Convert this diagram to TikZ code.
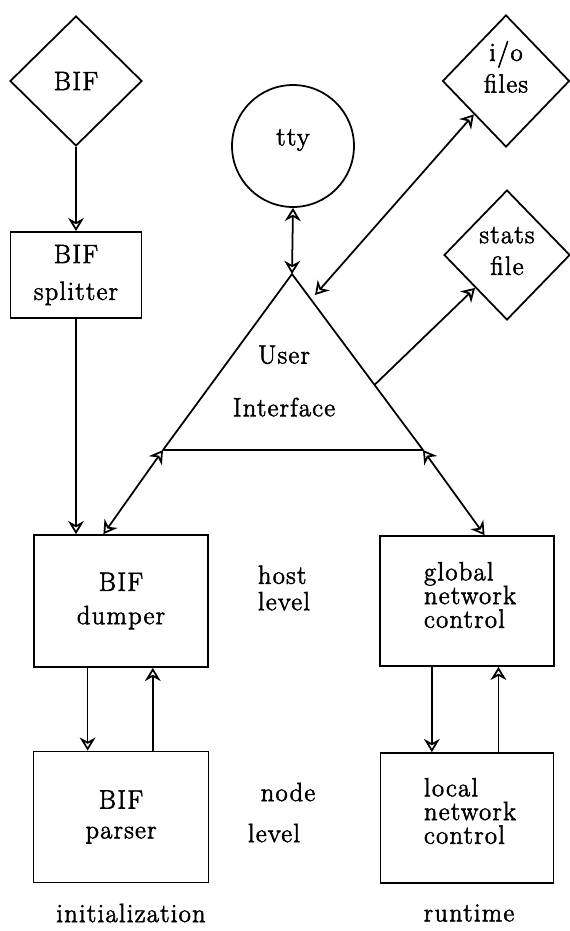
\documentclass[tikz,border=0pt]{standalone}
\usepackage{amsmath}
\usepackage{fontspec}
\setmainfont{Latin Modern Roman}[LetterSpace=5,FakeBold=2.2]
\usetikzlibrary{shapes.geometric,arrows.meta,calc}

\tikzset{
 box/.style={draw,rectangle,line width=1pt,inner sep=0pt,align=center},
 dia/.style={draw,diamond,line width=1pt,inner sep=0pt,align=center},
 con/.style={line width=1pt,-{Stealth[open,length=7.5pt,width=9pt]}},
 dcon/.style={line width=1pt,{Stealth[open,length=7.5pt,width=9pt]}-{Stealth[open,length=7.5pt,width=9pt]}},
 tight/.style={align=left,font=\fontsize{15}{13.5}\selectfont},
}

\begin{document}
\begin{tikzpicture}[x=0.02cm,y=-0.02cm,font=\fontsize{15}{18}\selectfont]
\useasboundingbox (0,0) rectangle (570,931);
%%%%%initialization column starts here
\node[dia,minimum width=2.64cm,minimum height=2.6cm] (bif) at (76,81) {BIF};
\node[box,minimum width=2.62cm,minimum height=1.72cm] (split) at (76,275) {BIF\\[3pt]splitter};
\node[box,minimum width=3.48cm,minimum height=2.64cm] (dump) at (121,601) {BIF\\[1pt]dumper};
\node[box,minimum width=3.5cm,minimum height=2.62cm] (pars) at (121,817) {BIF\\[-1pt]parser};
\node (init) at (131,913) {initialization};

\draw[con] (bif.south) -- (split.north);
\draw[con] (split.south) -- (split.south |- dump.north);
\draw[con] ($(dump.south west)!0.31!(dump.south east)$) coordinate (dd)
  -- (dd |- pars.north);
\draw[con] ($(pars.north west)!0.68!(pars.north east)$) coordinate (pu)
  -- (pu |- dump.south);
%%%%%initialization column ends here

%%%%%user interface starts here
\node[draw,circle,line width=1pt,minimum size=2.44cm,inner sep=0pt] (tty) at (293,146) {};
\node (ttytext) at (293,140) {tty};
\coordinate (uitop) at (292,274);
\coordinate (uileft) at (163,450);
\coordinate (uiright) at (423,450);
\draw[line width=1pt,line join=round] (uitop) -- (uileft) -- (uiright) -- cycle;
\node[align=center] (ui) at (284,381) {User\\[12pt]Interface};

\node[dia,minimum width=2.54cm,minimum height=2.64cm] (io) at (506,81) {};
\node[align=center] (iotext) at (506,67) {i/o\\files};
\node[dia,minimum width=2.52cm,minimum height=2.6cm] (stats) at (507,255) {};
\node[align=center] (statstext) at (507,251) {stats\\file};
\coordinate (ioend) at (315,295);
\coordinate (uistat) at ($(uitop)!0.63!(uiright)$);

\draw[dcon] (tty.south) -- (uitop);
\draw[dcon] (io.south west) -- (ioend);
\draw[con] (uistat) -- (stats.south west);
%%%%%user interface ends here

%%%%%runtime column starts here
\node[box,minimum width=3.48cm,minimum height=2.6cm] (glob) at (467,601) {};
\node[tight] (globtext) at (470,595) {global\\network\\control};
\node[box,minimum width=3.46cm,minimum height=2.6cm] (loc) at (467,818) {};
\node[tight] (loctext) at (470,811) {local\\network\\control};
\node (rt) at (469,913) {runtime};

\draw[dcon] (uileft) -- ($(dump.north west)!0.4!(dump.north east)$);
\draw[dcon] (uiright) -- ($(glob.north west)!0.6!(glob.north east)$);
\draw[con] ($(glob.south west)!0.3!(glob.south east)$) coordinate (gd)
  -- (gd |- loc.north);
\draw[con] ($(loc.north west)!0.68!(loc.north east)$) coordinate (lu)
  -- (lu |- glob.south);
%%%%%runtime column ends here

\node[align=left] (host) at (284,588) {host\\[-3pt]level};
\node (nodelv) at (288,792) {node};
\node (level) at (274,833) {level};
\end{tikzpicture}
\end{document}
